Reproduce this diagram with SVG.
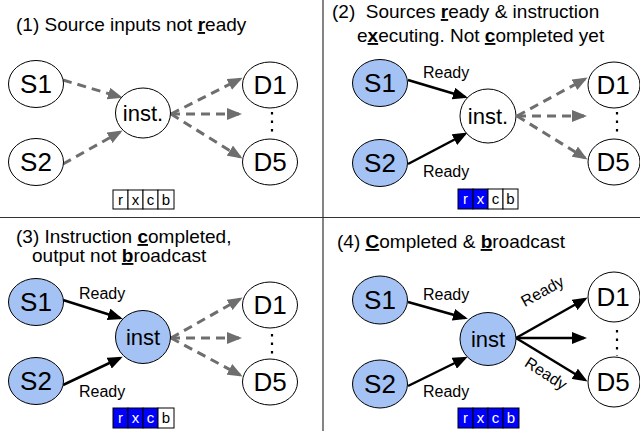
<svg xmlns="http://www.w3.org/2000/svg" width="640" height="431" viewBox="0 0 640 431">
<style>
text { font-family: "Liberation Sans", Arial, sans-serif; fill: #000; }
.title { font-size: 19px; }
.u { font-weight: bold; text-decoration: underline; }
.nd { fill: #fff; stroke: #000; stroke-width: 1; }
.nb { fill: #a4c2f4; stroke: #000; stroke-width: 1; }
.lbl { font-size: 26px; text-anchor: middle; }
.ilbl { font-size: 22px; text-anchor: middle; }
.rdy { font-size: 16px; }
.dash { stroke: #6e6e6e; stroke-width: 3; stroke-dasharray: 9 6; fill: none; marker-end: url(#ag); }
.solid { stroke: #000; stroke-width: 2.5; fill: none; marker-end: url(#ab); }
.dots { stroke: #000; stroke-width: 2.2; stroke-dasharray: 2.5 6; }
.div { stroke: #333; stroke-width: 1.2; }
.cw { fill: #fff; stroke: #000; stroke-width: 1; }
.cb { fill: #0000ff; stroke: #000; stroke-width: 1; }
.ct { font-size: 15px; text-anchor: middle; }
.ctw { font-size: 15px; text-anchor: middle; fill: #fff; }
</style>
<defs>
<marker id="ag" markerUnits="userSpaceOnUse" markerWidth="15" markerHeight="12" refX="12" refY="6" orient="auto">
<path d="M0,0 L15,6 L0,12 z" fill="#6e6e6e"/>
</marker>
<marker id="ab" markerUnits="userSpaceOnUse" markerWidth="15" markerHeight="12" refX="12" refY="6" orient="auto">
<path d="M0,0 L15,6 L0,12 z" fill="#000"/>
</marker>
</defs>

<g id="dividers">
<line class="div" x1="323" y1="0" x2="323" y2="431"/>
<line class="div" x1="0" y1="217.5" x2="640" y2="217.5"/>
</g>

<!-- Panel 1 -->
<g id="title1">
<text class="title" x="16" y="31">(1) Source inputs not <tspan class="u">r</tspan>eady</text>
</g>
<g id="connectors1">
<line class="dash" x1="63" y1="80" x2="120" y2="97"/>
<line class="dash" x1="63" y1="164" x2="120" y2="132"/>
<line class="dash" x1="171" y1="114" x2="240" y2="79"/>
<line class="dash" x1="171" y1="114" x2="239" y2="114"/>
<line class="dash" x1="171" y1="114" x2="240" y2="157"/>
<line class="dots" x1="272" y1="112" x2="272" y2="136"/>
</g>
<g id="p1-S1"><ellipse class="nd" cx="36" cy="84" rx="27.5" ry="23.5"/><text class="lbl" x="36" y="93">S1</text></g>
<g id="p1-S2"><ellipse class="nd" cx="36" cy="162" rx="27.5" ry="23.5"/><text class="lbl" x="36" y="171">S2</text></g>
<g id="p1-inst"><ellipse class="nd" cx="143" cy="113" rx="27.5" ry="25"/><text class="ilbl" x="143" y="121">inst.</text></g>
<g id="p1-D1"><ellipse class="nd" cx="270" cy="85" rx="27.5" ry="23"/><text class="lbl" x="270" y="94">D1</text></g>
<g id="p1-D5"><ellipse class="nd" cx="270" cy="162" rx="27.5" ry="23"/><text class="lbl" x="270" y="171">D5</text></g>
<g id="p1-rxcb">
<rect class="cw" x="113" y="190" width="15" height="19"/><rect class="cw" x="128" y="190" width="15" height="19"/><rect class="cw" x="143" y="190" width="15" height="19"/><rect class="cw" x="158" y="190" width="16" height="19"/>
<text class="ct" x="120.5" y="205">r</text><text class="ct" x="135.5" y="205">x</text><text class="ct" x="150.5" y="205">c</text><text class="ct" x="166" y="205">b</text>
</g>

<!-- Panel 2 -->
<g id="title2">
<text class="title" x="332" y="18" xml:space="preserve">(2)  Sources <tspan class="u">r</tspan>eady &amp; instruction</text>
<text class="title" x="357" y="42">e<tspan class="u">x</tspan>ecuting. Not <tspan class="u">c</tspan>ompleted yet</text>
</g>
<g id="connectors2">
<line class="solid" x1="408" y1="80" x2="465" y2="97"/>
<line class="solid" x1="408" y1="164" x2="465" y2="134"/>
<line class="dash" x1="517" y1="116" x2="585" y2="79"/>
<line class="dash" x1="517" y1="116" x2="584" y2="116"/>
<line class="dash" x1="517" y1="116" x2="585" y2="158"/>
<line class="dots" x1="617" y1="112" x2="617" y2="136"/>
<text class="rdy" x="423" y="78">Ready</text>
<text class="rdy" x="423" y="177">Ready</text>
</g>
<g id="p2-S1"><ellipse class="nb" cx="380" cy="83" rx="27.5" ry="23.5"/><text class="lbl" x="380" y="92">S1</text></g>
<g id="p2-S2"><ellipse class="nb" cx="380" cy="163" rx="27.5" ry="23.5"/><text class="lbl" x="380" y="172">S2</text></g>
<g id="p2-inst"><ellipse class="nd" cx="488" cy="116" rx="28" ry="27"/><text class="ilbl" x="488" y="124">inst.</text></g>
<g id="p2-D1"><ellipse class="nd" cx="614" cy="85" rx="26" ry="23"/><text class="lbl" x="613" y="94">D1</text></g>
<g id="p2-D5"><ellipse class="nd" cx="614" cy="162" rx="26" ry="23"/><text class="lbl" x="613" y="171">D5</text></g>
<g id="p2-rxcb">
<rect class="cb" x="458" y="189" width="15" height="20"/><rect class="cb" x="473" y="189" width="15" height="20"/><rect class="cw" x="488" y="189" width="15" height="20"/><rect class="cw" x="503" y="189" width="15" height="20"/>
<text class="ctw" x="465.5" y="204">r</text><text class="ctw" x="480.5" y="204">x</text><text class="ct" x="495.5" y="204">c</text><text class="ct" x="510.5" y="204">b</text>
</g>

<!-- Panel 3 -->
<g id="title3">
<text class="title" x="16" y="243">(3) Instruction <tspan class="u">c</tspan>ompleted,</text>
<text class="title" x="32" y="262">output not <tspan class="u">b</tspan>roadcast</text>
</g>
<g id="connectors3">
<line class="solid" x1="63" y1="300" x2="120" y2="318"/>
<line class="solid" x1="63" y1="385" x2="120" y2="358"/>
<line class="dash" x1="171" y1="338" x2="240" y2="299"/>
<line class="dash" x1="171" y1="338" x2="239" y2="338"/>
<line class="dash" x1="171" y1="338" x2="240" y2="375"/>
<line class="dots" x1="272" y1="334" x2="272" y2="358"/>
<text class="rdy" x="79" y="299">Ready</text>
<text class="rdy" x="79" y="397">Ready</text>
</g>
<g id="p3-S1"><ellipse class="nb" cx="36" cy="302" rx="27.5" ry="23.5"/><text class="lbl" x="36" y="311">S1</text></g>
<g id="p3-S2"><ellipse class="nb" cx="36" cy="381" rx="27.5" ry="23.5"/><text class="lbl" x="36" y="390">S2</text></g>
<g id="p3-inst"><ellipse class="nb" cx="143" cy="337" rx="27.5" ry="26.5"/><text class="ilbl" x="143" y="345">inst</text></g>
<g id="p3-D1"><ellipse class="nd" cx="270" cy="305" rx="27.5" ry="23"/><text class="lbl" x="270" y="314">D1</text></g>
<g id="p3-D5"><ellipse class="nd" cx="270" cy="382" rx="27.5" ry="23"/><text class="lbl" x="270" y="391">D5</text></g>
<g id="p3-rxcb">
<rect class="cb" x="113" y="408" width="15" height="20"/><rect class="cb" x="128" y="408" width="15" height="20"/><rect class="cb" x="143" y="408" width="15" height="20"/><rect class="cw" x="158" y="408" width="16" height="20"/>
<text class="ctw" x="120.5" y="423">r</text><text class="ctw" x="135.5" y="423">x</text><text class="ctw" x="150.5" y="423">c</text><text class="ct" x="166" y="423">b</text>
</g>

<!-- Panel 4 -->
<g id="title4">
<text class="title" x="337" y="248">(4) <tspan class="u">C</tspan>ompleted &amp; <tspan class="u">b</tspan>roadcast</text>
</g>
<g id="connectors4">
<line class="solid" x1="408" y1="302" x2="465" y2="318"/>
<line class="solid" x1="408" y1="386" x2="465" y2="358"/>
<line class="solid" x1="516" y1="338" x2="585" y2="299"/>
<line class="solid" x1="516" y1="338" x2="584" y2="338"/>
<line class="solid" x1="516" y1="338" x2="585" y2="380"/>
<line class="dots" x1="617" y1="330" x2="617" y2="356"/>
<text class="rdy" x="423" y="300">Ready</text>
<text class="rdy" x="423" y="397">Ready</text>
<text class="rdy" text-anchor="middle" transform="translate(545,296) rotate(-29)">Ready</text>
<text class="rdy" text-anchor="middle" transform="translate(543,378) rotate(33)">Ready</text>
</g>
<g id="p4-S1"><ellipse class="nb" cx="380" cy="300" rx="27.5" ry="24"/><text class="lbl" x="380" y="309">S1</text></g>
<g id="p4-S2"><ellipse class="nb" cx="380" cy="384" rx="27.5" ry="24"/><text class="lbl" x="380" y="393">S2</text></g>
<g id="p4-inst"><ellipse class="nb" cx="488" cy="339" rx="28" ry="26.5"/><text class="ilbl" x="488" y="347">inst</text></g>
<g id="p4-D1"><ellipse class="nd" cx="614" cy="297" rx="26" ry="25"/><text class="lbl" x="613" y="306">D1</text></g>
<g id="p4-D5"><ellipse class="nd" cx="614" cy="382" rx="26" ry="25"/><text class="lbl" x="613" y="391">D5</text></g>
<g id="p4-rxcb">
<rect class="cb" x="458" y="408" width="15" height="20"/><rect class="cb" x="473" y="408" width="15" height="20"/><rect class="cb" x="488" y="408" width="15" height="20"/><rect class="cb" x="503" y="408" width="16" height="20"/>
<text class="ctw" x="465.5" y="423">r</text><text class="ctw" x="480.5" y="423">x</text><text class="ctw" x="495.5" y="423">c</text><text class="ctw" x="511" y="423">b</text>
</g>
</svg>
